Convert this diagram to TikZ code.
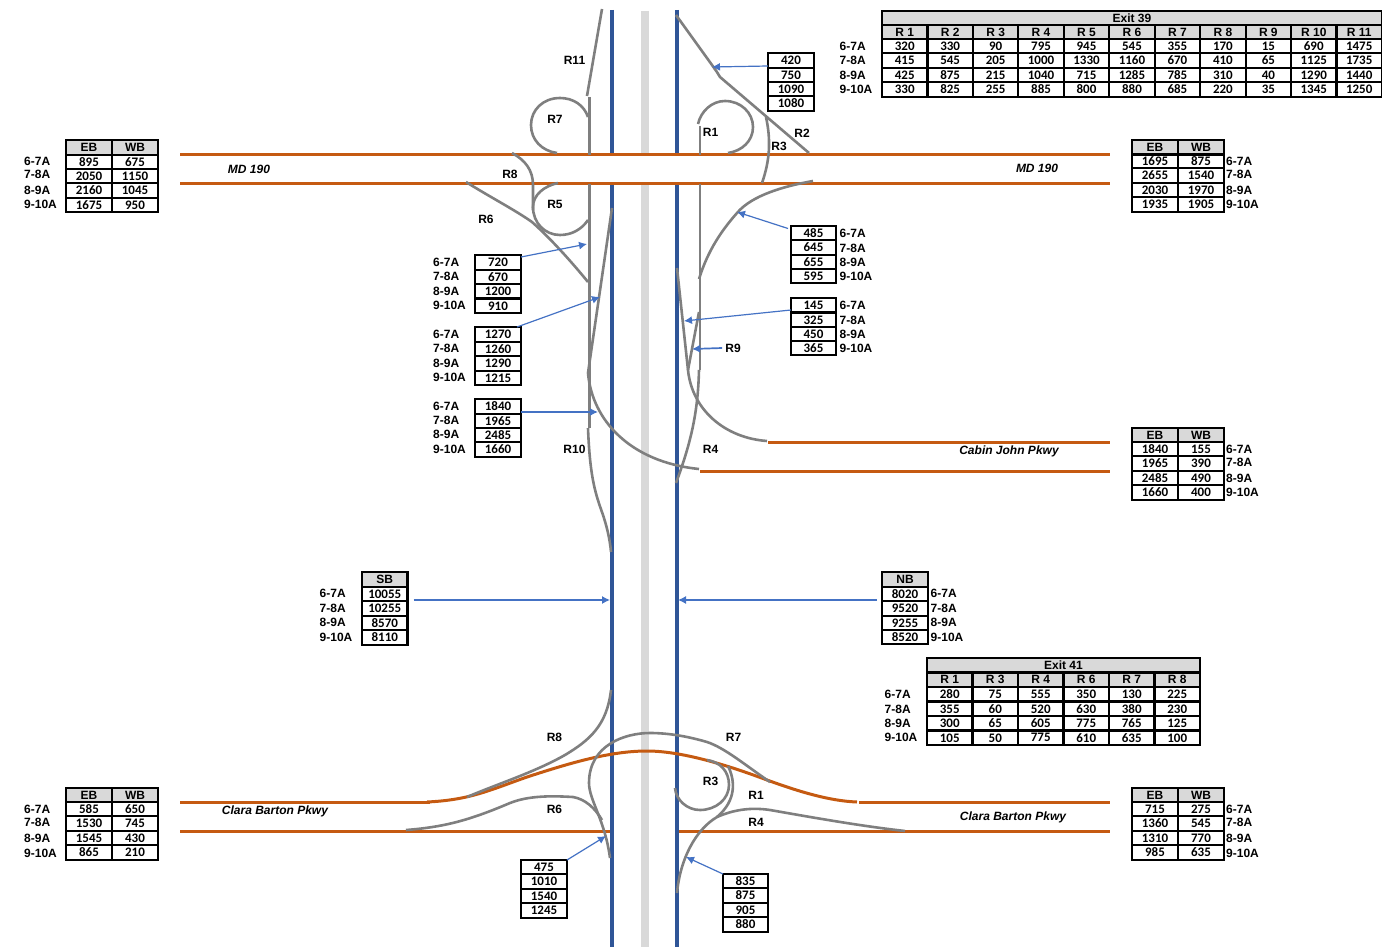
\documentclass[tikz,border=0pt]{standalone}
\usepackage{fontspec}
\setmainfont{Liberation Sans}
\newfontfamily\numfont{Carlito}
\usetikzlibrary{arrows.meta}
\definecolor{roadblue}{HTML}{2F5597}
\definecolor{roadorange}{HTML}{C55A11}
\definecolor{rampgrey}{HTML}{7F7F7F}
\definecolor{mediangrey}{HTML}{D9D9D9}
\definecolor{arrowblue}{HTML}{4472C4}
\tikzset{
  cellbox/.style={draw=black,line width=2.2pt,inner sep=0pt,outer sep=0pt,text depth=0pt,font=\numfont\fontsize{13}{14}\bfseries\selectfont},
  headbox/.style={cellbox,fill=mediangrey,font=\fontsize{12}{13}\bfseries\selectfont},
  lab/.style={inner sep=0pt,text depth=0pt,font=\fontsize{12}{13}\bfseries\selectfont},
  roadname/.style={inner sep=0pt,text depth=0pt,font=\fontsize{12}{13}\bfseries\itshape\selectfont},
  median/.style={mediangrey,line width=8pt},
  mainline/.style={roadblue,line width=4pt},
  cross/.style={roadorange,line width=3pt},
  ramp/.style={rampgrey,line width=2.6pt},
  flow/.style={arrowblue,line width=1.2pt,-{Latex[length=8pt,width=8pt]}},
  flowb/.style={flow,line width=1.7pt}
}
% name, x, y, w, h, text
\newcommand\hcell[6]{\node[headbox,minimum width=#4,minimum height=#5] (#1) at (#2+#4/2,#3+#5/2) {#6};}
% name, x, w, {five rule positions}, {four values}
\newcommand\tabc[5]{%
  \foreach \vv [count=\ii] in {#5}{%
    \pgfmathsetmacro\ytop{{#4}[\ii-1]}%
    \pgfmathsetmacro\ybot{{#4}[\ii]}%
    \pgfmathsetmacro\yh{\ybot-\ytop}%
    \node[cellbox,minimum width=#3,minimum height=\yh] (#1-\ii) at (#2+#3/2,\ytop+\yh/2) {\vv};
  }}
% name, x, y1..y4
\newcommand\rowl[6]{%
  \node[lab,anchor=west] (#1-a) at (#2,#3) {6-7A};
  \node[lab,anchor=west] (#1-b) at (#2,#4) {7-8A};
  \node[lab,anchor=west] (#1-c) at (#2,#5) {8-9A};
  \node[lab,anchor=west] (#1-d) at (#2,#6) {9-10A};}
\begin{document}
\begin{tikzpicture}[x=1pt,y=-1pt]
\useasboundingbox (0,0) rectangle (1382,947);
% median and main lines
\draw[median] (645,11) -- (645,154);
\draw[median] (645,184) -- (645,947);
\draw[mainline] (612,10) -- (612,154);
\draw[mainline] (612,184) -- (612,947);
\draw[mainline] (677,10) -- (677,154);
\draw[mainline] (677,184) -- (677,947);
% crossing roads
\draw[cross] (180,154.5) -- (1110,154.5);
\draw[cross] (180,183.5) -- (1110,183.5);
\draw[cross] (768,442.5) -- (1110,442.5);
\draw[cross] (700,471.5) -- (1110,471.5);
\draw[cross] (180,802.5) -- (430,802.5);
\draw[cross] (180,831.5) -- (610,831.5);
\draw[cross] (679,831.5) -- (1110,831.5);
\draw[cross] (859,802.5) -- (1110,802.5);
\draw[cross] (427,802) .. controls (470,800) and (490,790) .. (527,777) .. controls (570,763) and (610,751) .. (647,751) .. controls (685,751) and (735,768) .. (767,780) .. controls (800,792) and (830,801) .. (857,802);
% ramps, Exit 39
\draw[ramp] (602,9) -- (587,96);
\draw[ramp] (589.5,97) -- (589.5,155);
\draw[ramp] (588,117) .. controls (584,105) and (573,98) .. (560,98) .. controls (543,98) and (531,110) .. (531,125) .. controls (531,140) and (542,151) .. (557,153);
\draw[ramp] (589.5,184) -- (589.5,428);
\draw[ramp] (558,183) .. controls (544,186) and (533,195) .. (533,207) .. controls (533,223) and (545,235) .. (560,235) .. controls (572,235) and (582,229) .. (588,220);
\draw[ramp] (512,153) .. controls (525,160) and (533,170) .. (533,185) -- (533,210);
\draw[ramp] (466,182) .. controls (490,197) and (515,210) .. (532,222) .. controls (550,238) and (570,260) .. (588,282);
\draw[ramp] (612,208) -- (588,373);
\draw[ramp] (588,373) .. controls (592,420) and (630,462) .. (699,469);
\draw[ramp] (588,428) .. controls (590,480) and (596,495) .. (603,515) .. controls (607,527) and (610,540) .. (611,552);
\draw[ramp] (700,126) -- (700,155);
\draw[ramp] (698,124) .. controls (701,111) and (712,101) .. (725,101) .. controls (741,101) and (753,113) .. (753,127) .. controls (753,141) and (742,151) .. (728,153);
\draw[ramp] (676,15) -- (712,65) .. controls (716,71) and (718,73) .. (720,77) -- (809,153);
\draw[ramp] (766,117) .. controls (771,140) and (770,160) .. (762,183);
\draw[ramp] (813,181) .. controls (785,186) and (752,195) .. (737,213) .. controls (722,230) and (708,250) .. (699,279);
\draw[ramp] (700,184) -- (700,370);
\draw[ramp] (677,268) -- (688,370);
\draw[ramp] (688,370) .. controls (692,410) and (725,438) .. (767,441);
\draw[ramp] (699,312) -- (688,370);
\draw[ramp] (699,370) .. controls (698,410) and (692,440) .. (676,483);
% ramps, Exit 41
\draw[ramp] (611,690) .. controls (607,725) and (590,740) .. (565,755) .. controls (535,772) and (500,783) .. (467,797);
\draw[ramp] (770,782) .. controls (745,765) and (725,748) .. (707,742) .. controls (690,737) and (670,733) .. (650,733) .. controls (625,733) and (589,745) .. (589,783) .. controls (589,800) and (605,820) .. (610,858);
\draw[ramp] (406,830) .. controls (445,827) and (470,820) .. (510,803) .. controls (530,795) and (555,796) .. (573,797) .. controls (585,799) and (595,808) .. (602,820);
\draw[ramp] (675,788) .. controls (676,800) and (687,810) .. (700,810) .. controls (716,810) and (729,799) .. (729,785) .. controls (729,771) and (720,762) .. (707,760);
\draw[ramp] (728,766) .. controls (735,780) and (737,800) .. (717,817) .. controls (695,830) and (680,860) .. (677,893);
\draw[ramp] (905,831) .. controls (860,826) and (810,817) .. (770,810) .. controls (750,807) and (733,810) .. (717,817);
% Exit 39 table
\hcell{x39}{882}{11}{500}{14}{Exit 39}
\foreach \nm [count=\k from 0] in {R 1,R 2,R 3,R 4,R 5,R 6,R 7,R 8,R 9,R 10,R 11}{
  \hcell{x39h\k}{882+45.45*\k}{25}{45.45}{14}{\nm}}
\tabc{a1}{882}{45.45}{39,53,68,82,97}{320,415,425,330}
\tabc{a2}{927.45}{45.45}{39,53,68,82,97}{330,545,875,825}
\tabc{a3}{972.9}{45.45}{39,53,68,82,97}{90,205,215,255}
\tabc{a4}{1018.35}{45.45}{39,53,68,82,97}{795,1000,1040,885}
\tabc{a5}{1063.8}{45.45}{39,53,68,82,97}{945,1330,715,800}
\tabc{a6}{1109.25}{45.45}{39,53,68,82,97}{545,1160,1285,880}
\tabc{a7}{1154.7}{45.45}{39,53,68,82,97}{355,670,785,685}
\tabc{a8}{1200.15}{45.45}{39,53,68,82,97}{170,410,310,220}
\tabc{a9}{1245.6}{45.45}{39,53,68,82,97}{15,65,40,35}
\tabc{a10}{1291.05}{45.45}{39,53,68,82,97}{690,1125,1290,1345}
\tabc{a11}{1336.5}{45.45}{39,53,68,82,97}{1475,1735,1440,1250}
\rowl{lx39}{839.5}{46}{60}{75}{89}
% Exit 41 table
\hcell{x41}{927}{658}{273}{14.5}{Exit 41}
\foreach \nm [count=\k from 0] in {R 1,R 3,R 4,R 6,R 7,R 8}{
  \hcell{x41h\k}{927+45.5*\k}{672.5}{45.5}{14.5}{\nm}}
\tabc{b1}{927}{45.5}{687,701.5,716,730.5,745}{280,355,300,105}
\tabc{b2}{972.5}{45.5}{687,701.5,716,730.5,745}{75,60,65,50}
\tabc{b3}{1018}{45.5}{687,701.5,716,730.5,745}{555,520,605,775}
\tabc{b4}{1063.5}{45.5}{687,701.5,716,730.5,745}{350,630,775,610}
\tabc{b5}{1109}{45.5}{687,701.5,716,730.5,745}{130,380,765,635}
\tabc{b6}{1154.5}{45.5}{687,701.5,716,730.5,745}{225,230,125,100}
\rowl{lx41}{884.5}{694}{709}{723}{737}
% direction tables on crossing roads
\hcell{m1e}{66}{140}{46}{15}{EB}
\hcell{m1w}{112}{140}{46}{15}{WB}
\tabc{m1a}{66}{46}{155,169,183,198,212}{895,2050,2160,1675}
\tabc{m1b}{112}{46}{155,169,183,198,212}{675,1150,1045,950}
\rowl{lm1}{24}{161}{174}{190}{204}
\hcell{m2e}{1132}{140}{46}{14.5}{EB}
\hcell{m2w}{1178}{140}{46}{14.5}{WB}
\tabc{m2a}{1132}{46}{154.5,168,183,197,212}{1695,2655,2030,1935}
\tabc{m2b}{1178}{46}{154.5,168,183,197,212}{875,1540,1970,1905}
\rowl{lm2}{1226}{161}{174}{190}{204}
\hcell{c1e}{1132}{428}{46}{14}{EB}
\hcell{c1w}{1178}{428}{46}{14}{WB}
\tabc{c1a}{1132}{46}{442,456,471,485,500}{1840,1965,2485,1660}
\tabc{c1b}{1178}{46}{442,456,471,485,500}{155,390,490,400}
\rowl{lc1}{1226}{449}{462}{478}{492}
\hcell{k1e}{66}{788}{46}{14}{EB}
\hcell{k1w}{112}{788}{46}{14}{WB}
\tabc{k1a}{66}{46}{802,816,831,845,860}{585,1530,1545,865}
\tabc{k1b}{112}{46}{802,816,831,845,860}{650,745,430,210}
\rowl{lk1}{24}{809}{822}{838}{853}
\hcell{k2e}{1132}{788}{46}{14}{EB}
\hcell{k2w}{1178}{788}{46}{14}{WB}
\tabc{k2a}{1132}{46}{802,816,831,845,860}{715,1360,1310,985}
\tabc{k2b}{1178}{46}{802,816,831,845,860}{275,545,770,635}
\rowl{lk2}{1226}{809}{822}{838}{853}
% main line tables
\hcell{sbh}{362}{572}{45.5}{15}{SB}
\tabc{sb}{362}{45.5}{587,601,616,630,645}{10055,10255,8570,8110}
\rowl{lsb}{319.5}{593}{608}{622}{637}
\hcell{nbh}{882}{572}{46}{15}{NB}
\tabc{nb}{882}{46}{587,601,616,630,644}{8020,9520,9255,8520}
\rowl{lnb}{930.5}{593}{608}{622}{637}
% ramp count tables
\tabc{t420}{768}{46}{53,68,82,96,111}{420,750,1090,1080}
\tabc{t485}{791}{45}{226,240,255,269,283}{485,645,655,595}
\rowl{lt485}{839.5}{233}{248}{262}{276}
\tabc{t145}{791}{45}{298,312.5,327,341,355}{145,325,450,365}
\rowl{lt145}{839.5}{305}{320}{334}{348}
\tabc{t720}{475}{46}{255,270,284,298.5,313}{720,670,1200,910}
\rowl{lt720}{433}{262}{276}{291}{305}
\tabc{t1270}{475}{46}{327,342,356,371,385}{1270,1260,1290,1215}
\rowl{lt1270}{433}{334}{348}{363}{377}
\tabc{t1840}{475}{46}{399,414,428,442,457}{1840,1965,2485,1660}
\rowl{lt1840}{433}{406}{420}{434}{449}
\tabc{t475}{521}{46}{860,874,889,903,918}{475,1010,1540,1245}
\tabc{t835}{723}{45}{874,888,903,917,932}{835,875,905,880}
% ramp labels
\node[lab] (r11t) at (574.5,60) {R11};
\node[lab] (r7t) at (555,119) {R7};
\node[lab] (r1t) at (710.5,132) {R1};
\node[lab] (r2t) at (802,133) {R2};
\node[lab] (r3t) at (779,146) {R3};
\node[lab] (r8t) at (510,174) {R8};
\node[lab] (r5t) at (555,204) {R5};
\node[lab] (r6t) at (486,219) {R6};
\node[lab] (r10t) at (574.5,449) {R10};
\node[lab] (r4t) at (710.5,449) {R4};
\node[lab] (r9t) at (733,348) {R9};
\node[lab] (r8b) at (554.5,737) {R8};
\node[lab] (r7b) at (733.5,737) {R7};
\node[lab] (r3b) at (710.5,781) {R3};
\node[lab] (r1b) at (756,795) {R1};
\node[lab] (r6b) at (554.5,809) {R6};
\node[lab] (r4b) at (756,822) {R4};
% road names
\node[roadname] (n1) at (249,169) {MD 190};
\node[roadname] (n2) at (1037,168) {MD 190};
\node[roadname] (n3) at (1009,450) {Cabin John Pkwy};
\node[roadname] (n4) at (275,810) {Clara Barton Pkwy};
\node[roadname] (n5) at (1013,816) {Clara Barton Pkwy};
% flow arrows
\coordinate (e420) at (712,67);
\coordinate (e485) at (737,212);
\coordinate (e720) at (587,244);
\coordinate (e1270) at (600,297);
\coordinate (e1840) at (598,412);
\coordinate (e145) at (684,321);
\coordinate (er9) at (692,349);
\coordinate (e475) at (606,836);
\coordinate (e835) at (686,857);
\coordinate (esb) at (610,600);
\coordinate (enb) at (678,600);
\draw[flow] ([yshift=2pt]t420-1.south west) -- (e420);
\draw[flow] ([yshift=-2.5pt,xshift=-3pt]t485-1.north west) -- (e485);
\draw[flow] ([yshift=-2pt]t720-1.north east) -- (e720);
\draw[flow] ([xshift=-4pt]t1270-1.north east) -- (e1270);
\draw[flowb] ([yshift=2pt]t1840-1.south east) -- (e1840);
\draw[flow] ([yshift=2.5pt]t145-1.south west) -- (e145);
\draw[flowb] ([xshift=-3pt]r9t.west) -- (er9);
\draw[flow] (t475-1.north east) -- (e475);
\draw[flow] (t835-1.north west) -- (e835);
\draw[flow] ([xshift=6pt,yshift=1pt]sb-1.south east) -- (esb);
\draw[flow] ([xshift=-5pt,yshift=1pt]nb-1.south west) -- (enb);
\end{tikzpicture}
\end{document}
